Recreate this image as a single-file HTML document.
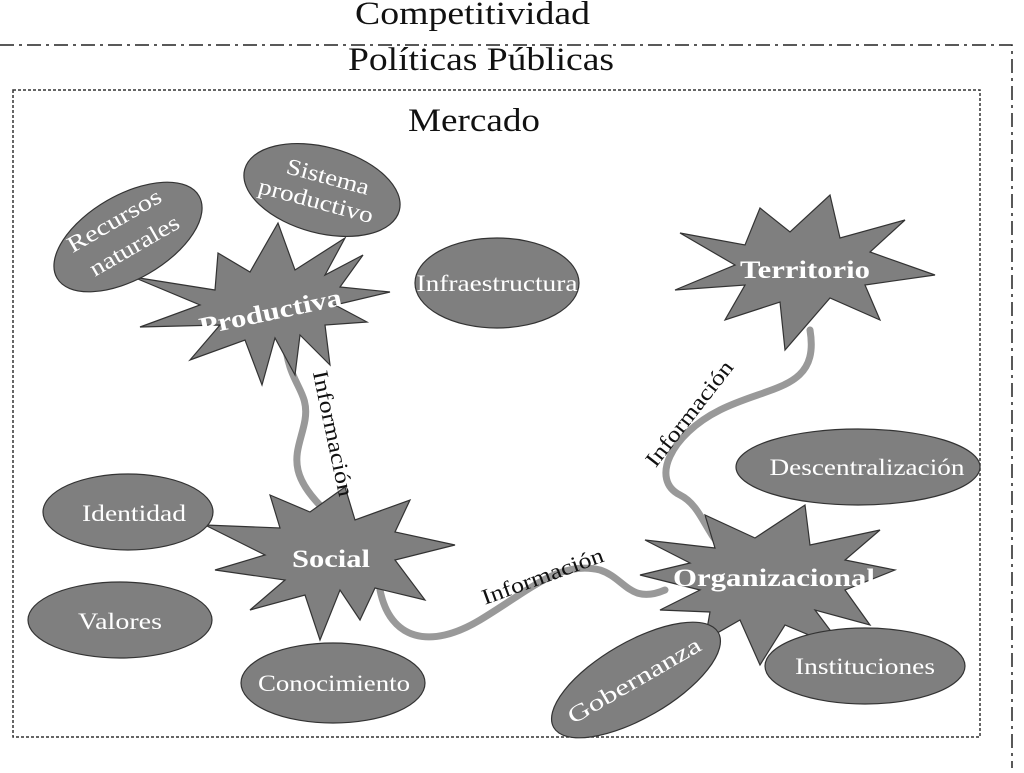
<!DOCTYPE html>
<html><head><meta charset="utf-8"><style>
body{margin:0;background:#fff;width:1024px;height:768px;overflow:hidden;}
svg text{font-family:"Liberation Serif",serif;}
</style></head><body>
<svg width="1024" height="768" viewBox="0 0 1024 768" xmlns="http://www.w3.org/2000/svg">
<text x="355" y="24" font-size="33" textLength="235" lengthAdjust="spacingAndGlyphs" fill="#111">Competitividad</text>
<path d="M0 45 H1012 V768" fill="none" stroke="#222" stroke-width="1.5" stroke-dasharray="14,5,3,5"/>
<text x="348" y="70" font-size="33" textLength="266" lengthAdjust="spacingAndGlyphs" fill="#111">Políticas Públicas</text>
<rect x="13" y="90" width="967" height="647" fill="none" stroke="#333" stroke-width="1.5" stroke-dasharray="3,2"/>
<text x="408" y="131" font-size="33" textLength="132" lengthAdjust="spacingAndGlyphs" fill="#111">Mercado</text>

<g fill="none" stroke="#999" stroke-width="7" stroke-linecap="round">
<path d="M285 340 C288 385 310 390 305 420 C300 450 280 470 330 515"/>
<path d="M810 330 C820 390 770 385 720 410 C670 435 650 480 680 495 C700 505 705 530 720 545"/>
<path d="M380 590 C390 640 430 650 480 620 C530 590 560 560 600 570 C625 578 630 605 665 590"/>
</g>

<g fill="#7f7f7f" stroke="#333" stroke-width="1.2">
<polygon points="218,253 250,272 278,223 295,270 345,238 325,275 363,255 340,287 390,292 335,305 367,322 325,325 330,365 300,335 295,375 275,338 262,385 245,340 190,360 220,325 140,327 200,305 133,277 215,290"/>
<polygon points="680,233 745,245 760,208 790,232 830,195 840,238 905,220 870,252 935,275 865,285 880,320 830,298 785,350 780,302 725,320 745,285 675,290 735,265"/>
<polygon points="205,525 280,528 270,495 310,512 345,487 355,520 410,500 395,532 455,545 395,560 425,600 375,588 360,620 340,590 320,640 305,595 250,610 285,580 215,570 265,555"/>
<polygon points="645,540 715,548 705,515 755,538 805,505 810,545 880,530 845,560 895,570 845,590 870,625 815,610 845,650 785,625 760,665 740,620 705,640 710,612 660,610 700,590 640,575 690,563"/>
</g>
<g fill="#7f7f7f" stroke="#333" stroke-width="1.2">
<ellipse cx="128" cy="237" rx="82" ry="42" transform="rotate(-30 128 237)"/>
<ellipse cx="322" cy="190" rx="80" ry="43" transform="rotate(15 322 190)"/>
<ellipse cx="497" cy="283" rx="82" ry="45"/>
<ellipse cx="128" cy="512" rx="85" ry="38"/>
<ellipse cx="120" cy="620" rx="92" ry="38"/>
<ellipse cx="333" cy="683" rx="92" ry="40"/>
<ellipse cx="858" cy="467" rx="122" ry="38"/>
<ellipse cx="865" cy="666" rx="100" ry="38"/>
<ellipse cx="636" cy="680" rx="95" ry="38" transform="rotate(-30 636 680)"/>
</g>
<g fill="#fff" font-size="23" text-anchor="middle" lengthAdjust="spacingAndGlyphs">
<text transform="translate(118,227) rotate(-30)" textLength="105" lengthAdjust="spacingAndGlyphs">Recursos</text>
<text transform="translate(138,252) rotate(-30)" textLength="100" lengthAdjust="spacingAndGlyphs">naturales</text>
<text transform="translate(326,184) rotate(15)" textLength="85" lengthAdjust="spacingAndGlyphs">Sistema</text>
<text transform="translate(314,208) rotate(15)" textLength="118" lengthAdjust="spacingAndGlyphs">productivo</text>
<text x="497" y="291" textLength="161" lengthAdjust="spacingAndGlyphs">Infraestructura</text>
<text x="134" y="521" textLength="104" lengthAdjust="spacingAndGlyphs">Identidad</text>
<text x="120" y="629" textLength="84" lengthAdjust="spacingAndGlyphs">Valores</text>
<text x="334" y="691" textLength="152" lengthAdjust="spacingAndGlyphs">Conocimiento</text>
<text x="867" y="475" textLength="195" lengthAdjust="spacingAndGlyphs">Descentralización</text>
<text x="865" y="674" textLength="140" lengthAdjust="spacingAndGlyphs">Instituciones</text>
<text transform="translate(638,687) rotate(-30)" textLength="150" lengthAdjust="spacingAndGlyphs">Gobernanza</text>
</g>
<g fill="#fff" font-size="25" font-weight="bold" text-anchor="middle">
<text transform="translate(272,320) rotate(-12)" textLength="145" lengthAdjust="spacingAndGlyphs">Productiva</text>
<text x="805" y="278" textLength="130" lengthAdjust="spacingAndGlyphs">Territorio</text>
<text x="331" y="567" textLength="78" lengthAdjust="spacingAndGlyphs">Social</text>
<text x="774" y="586" textLength="202" lengthAdjust="spacingAndGlyphs">Organizacional</text>
</g>
<g fill="#111" font-size="22" text-anchor="middle">
<text transform="translate(326,435) rotate(78)" textLength="128" lengthAdjust="spacingAndGlyphs">Información</text>
<text transform="translate(695,418) rotate(-52)" textLength="128" lengthAdjust="spacingAndGlyphs">Información</text>
<text transform="translate(545,583) rotate(-20)" textLength="128" lengthAdjust="spacingAndGlyphs">Información</text>
</g>
</svg>
</body></html>
